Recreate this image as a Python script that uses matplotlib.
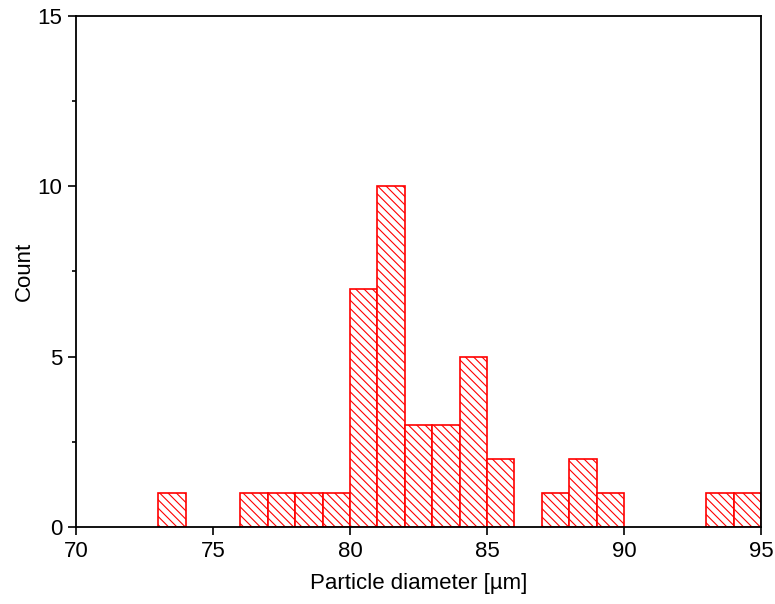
import numpy as np
import matplotlib
matplotlib.use("Agg")
import matplotlib.pyplot as plt
from matplotlib.ticker import MultipleLocator

plt.rcParams['font.family'] = ['Liberation Sans', 'DejaVu Sans']
plt.rcParams['hatch.linewidth'] = 0.8
plt.rcParams['hatch.color'] = 'red'

# histogram bins (left edges, width 1 µm) and counts
bin_left = [73, 76, 77, 78, 79, 80, 81, 82, 83, 84, 85, 87, 88, 89, 93, 94]
counts = [1, 1, 1, 1, 1, 7, 10, 3, 3, 5, 2, 1, 2, 1, 1, 1]

fig = plt.figure(figsize=(7.75, 6.04), dpi=100)
ax = fig.add_axes([0.098, 0.1275, 0.884, 0.846])

ax.bar(bin_left, counts, width=1, align='edge', facecolor='white',
       edgecolor='red', linewidth=1.2, hatch='\\\\\\\\', zorder=2)

ax.set_xlim(70, 95)
ax.set_ylim(0, 15)
ax.xaxis.set_major_locator(MultipleLocator(5))
ax.yaxis.set_major_locator(MultipleLocator(5))
ax.yaxis.set_minor_locator(MultipleLocator(2.5))
ax.tick_params(axis='both', which='major', direction='out', length=6, width=1.2,
               labelsize=16, top=False, right=False, pad=4)
ax.tick_params(axis='y', which='minor', direction='out', length=3, width=1.2)
ax.tick_params(axis='x', which='minor', bottom=False)
for s in ax.spines.values():
    s.set_linewidth(1.3)
    s.set_zorder(3)

ax.set_xlabel('Particle diameter [µm]', fontsize=16, labelpad=8)
ax.set_ylabel('Count', fontsize=16, labelpad=2)

fig.savefig('out.png', dpi=100)
